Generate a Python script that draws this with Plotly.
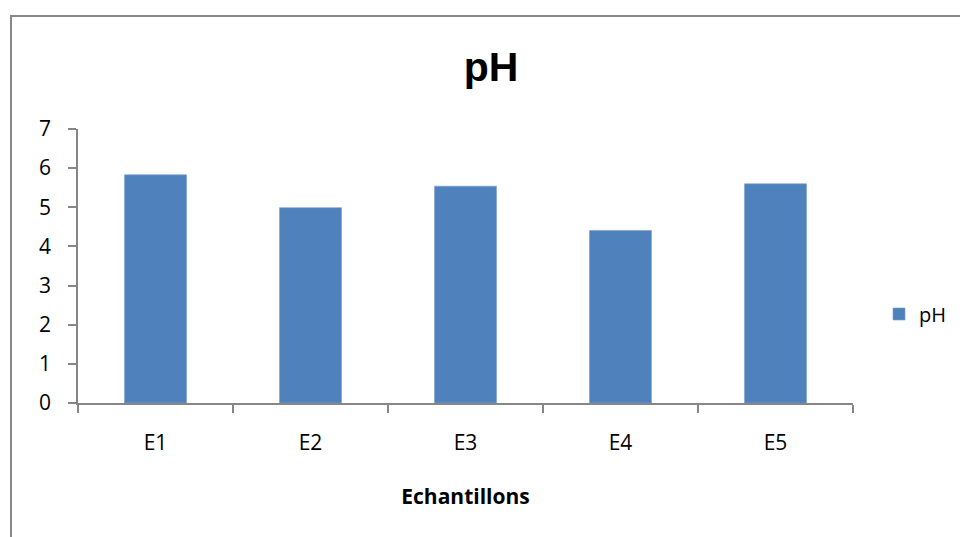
import plotly.graph_objects as go

# pH measured for each sample
samples = ["E1", "E2", "E3", "E4", "E5"]
ph_values = [5.83, 4.99, 5.54, 4.41, 5.60]
y_ticks = [0, 1, 2, 3, 4, 5, 6, 7]

W, H = 960, 537
L, R, T, B = 78, 107, 129, 134
pw, ph = W - L - R, H - T - B

def px_x(x):
    return (x - L) / pw

def px_y(y):
    return (H - B - y) / ph

axis_grey = "#868686"
bar_blue = "#4F81BD"
text_font = "Open Sans"

fig = go.Figure(
    go.Bar(
        x=samples,
        y=ph_values,
        name="pH",
        marker=dict(color=bar_blue, line=dict(color="#7A9FD0", width=0.6)),
    )
)

fig.update_layout(
    width=W,
    height=H,
    margin=dict(l=L, r=R, t=T, b=B, autoexpand=False),
    paper_bgcolor="white",
    plot_bgcolor="white",
    bargap=0.6,
    title=dict(
        text="<b>pH</b>",
        font=dict(family="Liberation Sans", size=41, color="black"),
        x=px_x(491),
        xanchor="center",
        xref="paper",
        y=1 - 67 / H,
        yanchor="middle",
        yref="container",
    ),
    showlegend=True,
    legend=dict(
        x=px_x(879),
        xanchor="left",
        y=px_y(314),
        yanchor="middle",
        font=dict(family=text_font, size=20, color="black"),
        itemwidth=30,
        bgcolor="rgba(0,0,0,0)",
    ),
    xaxis=dict(
        showline=True,
        linecolor=axis_grey,
        linewidth=1.5,
        ticks="outside",
        ticklen=8,
        tickcolor=axis_grey,
        tickwidth=1.5,
        tickson="boundaries",
        ticklabelstandoff=20,
        tickfont=dict(family=text_font, size=21, color="black"),
        title=dict(
            text="<b>Echantillons</b>",
            font=dict(family=text_font, size=21, color="black"),
            standoff=34,
        ),
        showgrid=False,
    ),
    yaxis=dict(
        range=[0, 7],
        tickvals=y_ticks,
        showline=True,
        linecolor=axis_grey,
        linewidth=1.5,
        ticks="outside",
        ticklen=8,
        tickcolor=axis_grey,
        tickwidth=1.5,
        ticklabelstandoff=13,
        tickfont=dict(family=text_font, size=21, color="black"),
        showgrid=False,
        zeroline=False,
    ),
    shapes=[
        # chart frame; its right and bottom edges fall outside the page
        dict(type="rect", xref="paper", yref="paper", layer="below",
             x0=px_x(11), x1=px_x(W + 40), y0=px_y(H + 40), y1=px_y(16),
             line=dict(color="#888888", width=2), fillcolor="rgba(0,0,0,0)"),
    ],
)

fig.write_html("out.html", config={"displayModeBar": False})
